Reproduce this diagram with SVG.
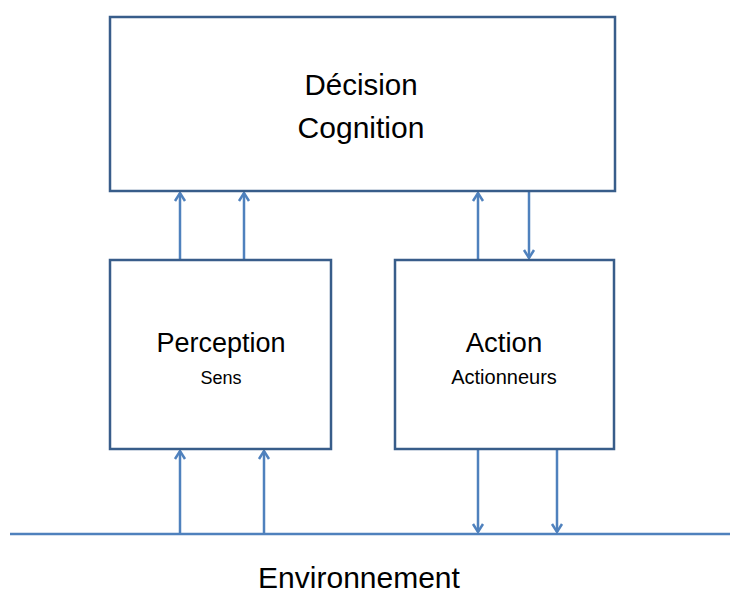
<svg xmlns="http://www.w3.org/2000/svg" width="730" height="596" viewBox="0 0 730 596">
<defs>
<marker id="arr" markerWidth="14" markerHeight="14" refX="11" refY="7" orient="auto" markerUnits="userSpaceOnUse">
<polyline points="3,2 11,7 3,12" fill="none" stroke="#4F81BD" stroke-width="2.5"/>
</marker>
</defs>
<style>
.box{fill:#fff;stroke:#385D8A;stroke-width:2.5}
.ln{stroke:#4F81BD;stroke-width:2.5;fill:none}
.ar{stroke:#4F81BD;stroke-width:2.5;fill:none;marker-end:url(#arr)}
.t{font-family:"Liberation Sans",Arial,sans-serif;fill:#000;text-anchor:middle}
</style>
<rect width="730" height="596" fill="#fff"/>
<g id="connectors">
<line class="ln" x1="10" y1="534" x2="730" y2="534"/>
<line class="ar" x1="180" y1="260" x2="180" y2="193"/>
<line class="ar" x1="244" y1="260" x2="244" y2="193"/>
<line class="ar" x1="478" y1="260" x2="478" y2="193"/>
<line class="ar" x1="529" y1="191" x2="529" y2="258"/>
<line class="ar" x1="180" y1="534" x2="180" y2="451"/>
<line class="ar" x1="264" y1="534" x2="264" y2="451"/>
<line class="ar" x1="478" y1="449" x2="478" y2="532"/>
<line class="ar" x1="557" y1="449" x2="557" y2="532"/>
</g>
<g id="decision">
<rect class="box" x="110" y="17" width="505" height="174"/>
<text class="t" x="361" y="95" font-size="29.5">Décision</text>
<text class="t" x="361" y="138" font-size="30">Cognition</text>
</g>
<g id="perception">
<rect class="box" x="110" y="260" width="221" height="189"/>
<text class="t" x="221" y="352" font-size="27">Perception</text>
<text class="t" x="221" y="384" font-size="18">Sens</text>
</g>
<g id="action">
<rect class="box" x="395" y="260" width="219" height="189"/>
<text class="t" x="504" y="352" font-size="27.5">Action</text>
<text class="t" x="504" y="384" font-size="20">Actionneurs</text>
</g>
<g id="environnement">
<text class="t" x="359" y="588" font-size="30">Environnement</text>
</g>
</svg>
